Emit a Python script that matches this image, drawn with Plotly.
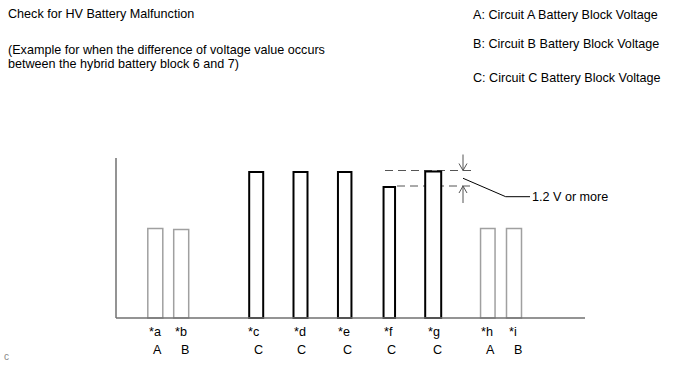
import plotly.graph_objects as go

# ---- data ----
bar_ids = ["*a", "*b", "*c", "*d", "*e", "*f", "*g", "*h", "*i"]
circuits = ["A", "B", "C", "C", "C", "C", "C", "A", "B"]
voltages = [89.5, 88.5, 146.0, 146.0, 146.0, 131.0, 146.5, 89.5, 89.5]
legend_lines = [
    "A: Circuit A Battery Block Voltage",
    "B: Circuit B Battery Block Voltage",
    "C: Circuit C Battery Block Voltage",
]
title_text = "Check for HV Battery Malfunction"
note_lines = [
    "(Example for when the difference of voltage value occurs",
    "between the hybrid battery block 6 and 7)",
]
diff_label = "1.2 V or more"

# ---- layout (positions / sizes) ----
W, H = 688, 366
base_px = 318
x_pos = [155.3, 181.2, 256.2, 300.5, 344.7, 389.3, 433.2, 487.8, 514.0]
widths = [15, 15, 14, 14, 13.5, 11.5, 16, 14.5, 15]
id_x = [154.5, 181, 253.5, 299.5, 344, 388.5, 433.5, 486.5, 512.5]
cir_x = [157.5, 184.5, 258, 301.7, 347.8, 391, 437, 490.5, 518]
FONT = "Liberation Sans, Arial, sans-serif"
FS = 12.6

fig = go.Figure()
for cat, col in [("AB", "#a0a0a0"), ("C", "#000000")]:
    idx = [i for i, c in enumerate(circuits) if (c == "C") == (cat == "C")]
    fig.add_trace(go.Bar(
        x=[x_pos[i] for i in idx],
        y=[voltages[i] for i in idx],
        width=[widths[i] for i in idx],
        marker=dict(color="white", line=dict(color=col, width=2 if cat == "C" else 1.5)),
        showlegend=False, hoverinfo="skip",
    ))

shapes = []
axis_col = "#707070"
# axes
shapes.append(dict(type="line", xref="x", yref="y", x0=116, x1=585, y0=0, y1=0,
                   line=dict(color=axis_col, width=1.5)))
shapes.append(dict(type="line", xref="x", yref="y", x0=116, x1=116, y0=0, y1=160,
                   line=dict(color=axis_col, width=1.5)))

# dashed reference lines at f and g
vf, vg = voltages[5], voltages[6]
top_g = vg + 1
top_f = vf + 1
dash_col = "#555555"
shapes.append(dict(type="line", xref="x", yref="y", x0=385, x1=471, y0=top_g, y1=top_g,
                   line=dict(color=dash_col, width=1, dash="8px,5px"), layer="below"))
shapes.append(dict(type="line", xref="x", yref="y", x0=397, x1=471, y0=top_f, y1=top_f,
                   line=dict(color=dash_col, width=1, dash="8px,5px"), layer="below"))
# arrows
ax = 463
arr_col = "#555555"
shapes.append(dict(type="path", xref="x", yref="y",
                   path=f"M {ax},{top_g+16} L {ax},{top_g} M {ax-4},{top_g+7} L {ax},{top_g} L {ax+4},{top_g+7}",
                   line=dict(color=arr_col, width=1)))
shapes.append(dict(type="path", xref="x", yref="y",
                   path=f"M {ax},{top_f-17} L {ax},{top_f} M {ax-4},{top_f-7} L {ax},{top_f} L {ax+4},{top_f-7}",
                   line=dict(color=arr_col, width=1)))
# leader line
mid = (top_g + top_f) / 2
shapes.append(dict(type="path", xref="x", yref="y",
                   path=f"M {ax},{mid} L 505.7,{base_px-196.7} L 530,{base_px-196.7}",
                   line=dict(color="black", width=1)))

ann = []
def txt(x, y, t, size=FS, color="black", xanchor="left"):
    ann.append(dict(x=x, y=y, xref="x", yref="y", text=t, showarrow=False,
                    xanchor=xanchor, yanchor="middle",
                    font=dict(family=FONT, size=size, color=color)))

def py(p):
    return base_px - p

txt(6, py(14), title_text)
txt(6, py(50), note_lines[0])
txt(6, py(64), note_lines[1])
for t, yy in zip(legend_lines, [15, 44, 78]):
    txt(471, py(yy), t)
txt(530, py(196.7), diff_label)
for i in range(len(bar_ids)):
    txt(id_x[i], py(332), bar_ids[i], xanchor="center")
    txt(cir_x[i], py(350), circuits[i], xanchor="center")
txt(2, py(356.5), "c", size=10, color="#888888")

fig.update_layout(
    width=W, height=H, margin=dict(l=0, r=0, t=0, b=0),
    paper_bgcolor="white", plot_bgcolor="white",
    xaxis=dict(range=[0, W], visible=False, fixedrange=True),
    yaxis=dict(range=[base_px - H, base_px], visible=False, fixedrange=True),
    shapes=shapes, annotations=ann, barmode="overlay",
)
fig.write_html("out.html", config={"displayModeBar": False},
               post_script="document.body.style.margin='0';document.body.style.overflow='hidden';")
